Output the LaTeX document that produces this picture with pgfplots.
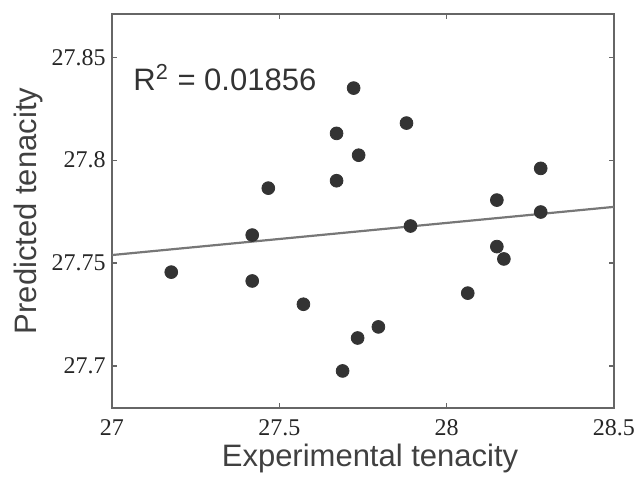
\documentclass[border=0pt]{standalone}
\usepackage{pgfplots}
\pgfplotsset{compat=1.18}
\usepackage{fontspec}
\setmainfont{Liberation Sans}
\newfontfamily\serifnum{Liberation Serif}
\definecolor{axgray}{HTML}{666666}
\definecolor{dotgray}{HTML}{333333}
\definecolor{linegray}{HTML}{777777}
\definecolor{txtgray}{HTML}{404040}
\begin{document}
\begin{tikzpicture}
\path[use as bounding box] (-56pt,-36.5pt) rectangle (261pt,204pt);
\begin{axis}[
  scale only axis,
  width=251pt, height=197pt,
  xmin=27, xmax=28.5, ymin=27.6796, ymax=27.871,
  xtick={27,27.5,28,28.5},
  ytick={27.7,27.75,27.8,27.85},
  xticklabels={27,27.5,28,28.5},
  yticklabels={27.7,27.75,27.8,27.85},
  tick align=inside,
  major tick length=2.5pt,
  axis line style={axgray, line width=1pt},
  every tick/.style={axgray, line width=0.6pt},
  tick label style={font=\serifnum\fontsize{12}{14}\selectfont, text=black!85},
  xticklabel style={anchor=base, yshift=-14pt},
  yticklabel style={anchor=east, inner sep=0pt, xshift=-3pt},
  xlabel={Experimental tenacity},
  ylabel={Predicted tenacity},
  every axis x label/.style={at={(axis description cs:0.514,-0.1497)}, anchor=base, font=\fontsize{15.5}{18}\selectfont, text=txtgray},
  every axis y label/.style={at={(axis description cs:-0.1494,0.5)}, anchor=base, rotate=90, font=\fontsize{15.5}{18}\selectfont, text=txtgray},
  clip=false,
]
\addplot[linegray, line width=1.1pt] coordinates {(27,27.7539) (28.5,27.7773)};
\addplot[only marks, mark=*, mark size=3.2pt, mark options={fill=dotgray, draw=dotgray}] coordinates {
(27.177,27.7456)
(27.419,27.7413)
(27.572,27.7300)
(27.467,27.7864)
(27.419,27.7636)
(27.722,27.8350)
(27.671,27.8130)
(27.737,27.8024)
(27.671,27.7900)
(27.880,27.8180)
(28.281,27.7960)
(28.150,27.7806)
(28.281,27.7748)
(27.892,27.7680)
(28.150,27.7580)
(28.171,27.7520)
(28.063,27.7354)
(27.796,27.7190)
(27.734,27.7136)
(27.689,27.6976)
};
\node[anchor=base west, inner sep=0pt, font=\fontsize{15.5}{18}\selectfont, text=dotgray] at (axis cs:27.063,27.834) {R\textsuperscript{2} = 0.01856};
\end{axis}
\end{tikzpicture}
\end{document}
